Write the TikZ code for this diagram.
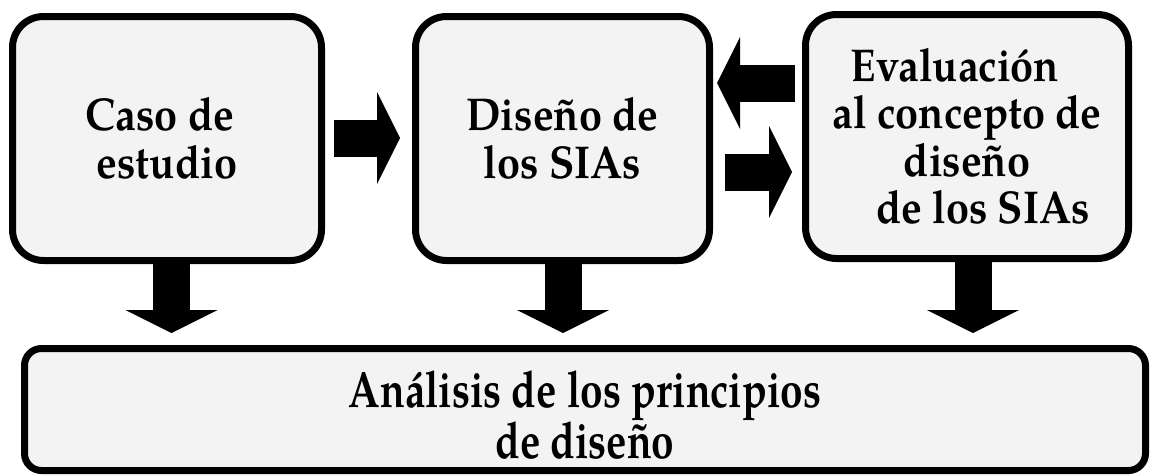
\documentclass[tikz,border=0pt]{standalone}
\usepackage{fontspec}
\setmainfont{texgyrepagella-regular.otf}[BoldFont=texgyrepagella-bold.otf]
\newfontfamily\topfont{texgyrepagella-bold.otf}[FakeStretch=0.90]
\newfontfamily\botfont{texgyrepagella-bold.otf}[FakeStretch=0.795]
\usetikzlibrary{arrows.meta,calc}
\definecolor{boxfill}{HTML}{F3F3F3}
\tikzset{
  box/.style={draw=black, fill=boxfill, line width=7pt, rounded corners=31pt, inner sep=0pt},
  topbox/.style={box, minimum height=244pt, align=center,
    font={\topfont\fontsize{46}{47.5}\selectfont\lineskiplimit=-100pt}},
  botbox/.style={box, rounded corners=17pt, minimum height=122pt},
  bottxt/.style={inner sep=0pt, align=center,
    font={\botfont\fontsize{51}{51}\selectfont\lineskiplimit=-100pt}},
  blockarrow/.style={line width=37pt, -{Triangle[length=23pt,width=92pt,line width=0pt]}}
}
\begin{document}
\begin{tikzpicture}[x=1pt,y=-1pt]
\useasboundingbox (0,0) rectangle (1152,475);
\fill[white] (0,0) rectangle (1152,475);
\node[topbox, minimum width=309pt] (b1) at (167,138.5) {Caso de\hspace*{14pt}\\estudio};
\node[topbox, minimum width=294pt] (b2) at (562.5,138.5) {Diseño de\\los SIAs};
\node[topbox, minimum width=323pt] (b3) at (967,136.5) {Evaluación\hspace*{24pt}\\al concepto de\\diseño\hspace*{42pt}\\\hspace*{32pt}de los SIAs};
\node[botbox, minimum width=1121pt] (b4) at (585,409.5) {};
\node[bottxt] (b4t) at (585,415) {Análisis de los principios\\de diseño};
% free ends
\coordinate (t1) at (171.5,333);
\coordinate (t2) at (563,333);
\coordinate (t3) at (973,333);
\coordinate (r1s) at (334,138);
\coordinate (r1t) at (400,138);
\coordinate (l1s) at (795,83);
\coordinate (l1t) at (717,83);
\coordinate (r2s) at (725,172);
\coordinate (r2t) at (792,172);
% connectors
\draw[blockarrow] (b1.south -| t1) -- (t1);
\draw[blockarrow] (b2.south -| t2) -- (t2);
\draw[blockarrow] (b3.south -| t3) -- (t3);
\draw[blockarrow] (r1s) -- (r1t);
\draw[blockarrow] (l1s) -- (l1t);
\draw[blockarrow] (r2s) -- (r2t);
\end{tikzpicture}
\end{document}
